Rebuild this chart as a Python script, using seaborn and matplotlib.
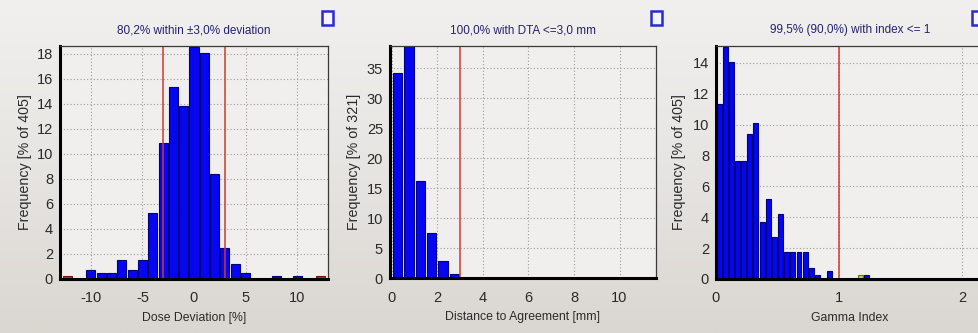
import numpy as np
import pandas as pd
import matplotlib
matplotlib.use("Agg")
import matplotlib.pyplot as plt
from matplotlib.colors import LinearSegmentedColormap
from matplotlib.patches import Rectangle
from matplotlib.ticker import MultipleLocator
import seaborn as sns

# ---- data -------------------------------------------------------------
# Dose deviation histogram (bins of 1 %, centred on integers), % of 405 points
dd_centers = [-10, -9, -8, -7, -6, -5, -4, -3, -2, -1, 0, 1, 2, 3, 4, 5, 8, 10]
dd_freq = [0.74, 0.49, 0.49, 1.48, 0.74, 1.48, 5.30, 10.86, 15.31, 13.83,
           18.52, 18.02, 8.40, 2.47, 1.23, 0.49, 0.25, 0.25]
# points outside the displayed range, stacked at the axis ends
dd_out_centers = [-12.25, 12.25]
dd_out_freq = [0.25, 0.25]
dd_limit = 3.0

# Distance-to-agreement histogram (bins of 0.5 mm), % of 321 points
dta_centers = [0.25, 0.75, 1.25, 1.75, 2.25, 2.75]
dta_freq = [34.27, 38.63, 16.20, 7.48, 2.80, 0.62]
dta_limit = 3.0

# Gamma index histogram (bins of 0.05), % of 405 points
gamma_centers = [0.025, 0.075, 0.125, 0.175, 0.225, 0.275, 0.325, 0.375,
                 0.425, 0.475, 0.525, 0.575, 0.625, 0.675, 0.725, 0.775,
                 0.825, 0.925, 1.225]
gamma_freq = [11.36, 15.06, 14.07, 7.65, 7.65, 9.38, 10.12, 3.70, 5.19, 2.72,
              4.20, 1.73, 1.73, 1.73, 1.73, 0.74, 0.25, 0.49, 0.25]
gamma_flag_centers = [1.175]
gamma_flag_freq = [0.25]
gamma_limit = 1.0

titles = ["80,2% within \u00b13,0% deviation",
          "100,0% with DTA <=3,0 mm",
          "99,5% (90,0%) with index <= 1"]
xlabels = ["Dose Deviation [%]", "Distance to Agreement [mm]", "Gamma Index"]
ylabels = ["Frequency [% of 405]", "Frequency [% of 321]", "Frequency [% of 405]"]

# ---- style ------------------------------------------------------------
sns.set_theme(style="white")
plt.rcParams["font.family"] = ["Liberation Sans", "DejaVu Sans"]
plt.rcParams["axes.unicode_minus"] = False

AX_BG = "#f0efed"
BAR = "#0606f0"
BAR_EDGE = "#00007a"
TEXT = "#2a2a2a"
TITLE = "#23236e"
LIMIT = "#cc3a30"

W, H = 979, 333
fig = plt.figure(figsize=(W / 100, H / 100), dpi=100, facecolor="#e6e4e1")

# window background: light at the top, slightly darker towards the bottom
bg = fig.add_axes([0, 0, 1, 1], zorder=-10)
bg.imshow(np.linspace(0, 1, 256)[:, None], aspect="auto", extent=(0, 1, 0, 1),
          cmap=LinearSegmentedColormap.from_list("win", ["#f1f0ee", "#e7e5e2", "#dad7d2"]))
bg.set_axis_off()


def add_px_axes(left, top, right, bottom):
    return fig.add_axes([left / W, 1 - bottom / H, (right - left) / W, (bottom - top) / H])


def style_axes(ax, title, xlabel, ylabel, ymajor, xmajor, xminor, ylabel_x):
    ax.set_facecolor(AX_BG)
    ax.set_title(title, fontsize=8.5, color=TITLE, pad=9)
    ax.set_xlabel(xlabel, fontsize=8.8, color=TEXT, labelpad=5)
    ax.set_ylabel(ylabel, fontsize=10.3, color=TEXT)
    ax.yaxis.set_label_coords(ylabel_x, 0.5)
    ax.yaxis.set_major_locator(MultipleLocator(ymajor))
    ax.xaxis.set_major_locator(MultipleLocator(xmajor))
    ax.xaxis.set_minor_locator(MultipleLocator(xminor))
    ax.grid(True, which="major", linestyle=(0, (1, 2)), color="#9c9c9c", linewidth=0.8)
    ax.set_axisbelow(True)
    ax.tick_params(axis="both", which="major", labelsize=10.5, colors=TEXT,
                   length=3, width=0.8, direction="out")
    ax.tick_params(axis="y", which="major", pad=2)
    ax.tick_params(axis="x", which="major", pad=6)
    ax.tick_params(axis="x", which="minor", length=2, width=0.6, colors="#606060")
    for side in ("top", "right"):
        ax.spines[side].set_color("#3a3a3a")
        ax.spines[side].set_linewidth(0.9)
    for side in ("left", "bottom"):
        ax.spines[side].set_color("black")
        ax.spines[side].set_linewidth(2.2)


def hist_bars(ax, centers, freq, width, color, edge, shrink):
    df = pd.DataFrame({"value": np.asarray(centers, float),
                       "pct": np.asarray(freq, float)})
    lo = df["value"].min() - width / 2
    hi = df["value"].max() + width / 2
    sns.histplot(data=df, x="value", weights="pct", binwidth=width,
                 binrange=(lo, hi), ax=ax, stat="count", color=color,
                 edgecolor=edge, linewidth=0.8, alpha=1.0, shrink=shrink)


# ---- panel 1: dose deviation ----------------------------------------
ax1 = add_px_axes(60, 46, 328, 279)
hist_bars(ax1, dd_centers, dd_freq, 1.0, BAR, BAR_EDGE, 0.88)
for c, f in zip(dd_out_centers, dd_out_freq):
    hist_bars(ax1, [c], [f], 1.0, "#b0302a", "#701810", 0.9)
ax1.axvline(-dd_limit, color=LIMIT, linewidth=1.1)
ax1.axvline(dd_limit, color=LIMIT, linewidth=1.1)
ax1.set_xlim(-13, 13)
ax1.set_ylim(0, 18.6)
style_axes(ax1, titles[0], xlabels[0], ylabels[0], 2, 5, 2.5, -0.106)

# ---- panel 2: distance to agreement ---------------------------------
ax2 = add_px_axes(390, 46, 656, 278)
hist_bars(ax2, dta_centers, dta_freq, 0.5, BAR, BAR_EDGE, 0.84)
ax2.axvline(dta_limit, color=LIMIT, linewidth=1.1)
ax2.set_xlim(-0.08, 11.6)
ax2.set_ylim(0, 38.7)
style_axes(ax2, titles[1], xlabels[1], ylabels[1], 5, 2, 1, -0.110)

# ---- panel 3: gamma index -------------------------------------------
ax3 = add_px_axes(716, 46, 984, 279)
hist_bars(ax3, gamma_centers, gamma_freq, 0.05, BAR, BAR_EDGE, 0.8)
hist_bars(ax3, gamma_flag_centers, gamma_flag_freq, 0.05, "#c9cf4a", "#6b6b20", 0.8)
ax3.axvline(gamma_limit, color=LIMIT, linewidth=1.1)
ax3.set_xlim(0, 2.18)
ax3.set_ylim(0, 15.1)
style_axes(ax3, titles[2], xlabels[2], ylabels[2], 2, 1, 0.25, -0.112)

# small window-style buttons in the top-right corner of each panel
for x0 in (322, 651, 972):
    fig.patches.append(Rectangle((x0 / W, 1 - 25 / H), 11 / W, 14 / H,
                                 transform=fig.transFigure, facecolor="#f4f4fa",
                                 edgecolor="#2a2ad0", linewidth=1.8))

fig.savefig("out.png", dpi=100)
